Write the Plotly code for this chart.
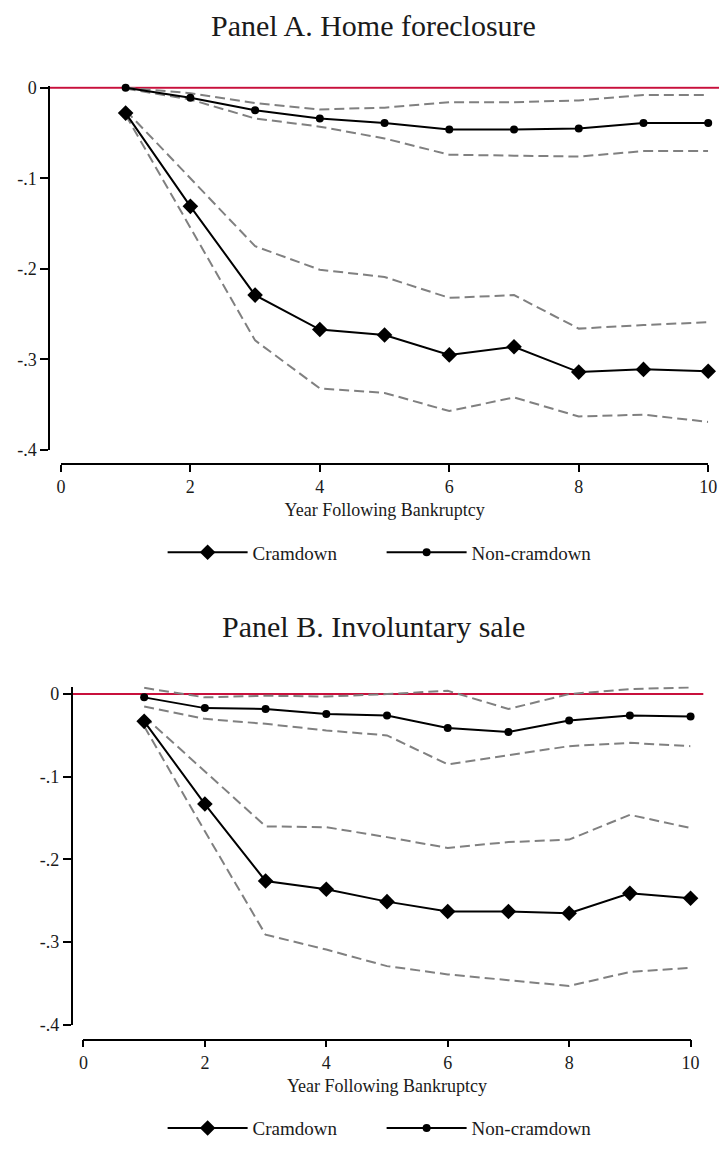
import plotly.graph_objects as go

# ---------------- data ----------------
years = [1, 2, 3, 4, 5, 6, 7, 8, 9, 10]

# Panel A. Home foreclosure
a_cram = [-0.028, -0.131, -0.229, -0.267, -0.273, -0.295, -0.286, -0.314, -0.311, -0.313]
a_cram_hi = [-0.025, -0.100, -0.175, -0.201, -0.209, -0.232, -0.229, -0.266, -0.262, -0.259]
a_cram_lo = [-0.030, -0.155, -0.279, -0.332, -0.337, -0.357, -0.342, -0.363, -0.361, -0.369]
a_non = [0.000, -0.011, -0.025, -0.034, -0.039, -0.046, -0.046, -0.045, -0.039, -0.039]
a_non_hi = [0.000, -0.006, -0.017, -0.024, -0.022, -0.016, -0.016, -0.014, -0.008, -0.008]
a_non_lo = [-0.001, -0.013, -0.034, -0.043, -0.056, -0.074, -0.075, -0.076, -0.070, -0.070]

# Panel B. Involuntary sale
b_cram = [-0.033, -0.133, -0.226, -0.236, -0.251, -0.263, -0.263, -0.265, -0.241, -0.247]
b_cram_hi = [-0.027, -0.094, -0.160, -0.161, -0.173, -0.186, -0.179, -0.176, -0.146, -0.162]
b_cram_lo = [-0.039, -0.166, -0.291, -0.309, -0.329, -0.339, -0.346, -0.353, -0.336, -0.331]
b_non = [-0.004, -0.017, -0.018, -0.024, -0.026, -0.041, -0.046, -0.032, -0.026, -0.027]
b_non_hi = [0.0075, -0.004, -0.002, -0.003, 0.000, 0.004, -0.018, 0.000, 0.006, 0.008]
b_non_lo = [-0.015, -0.030, -0.036, -0.044, -0.050, -0.085, -0.074, -0.063, -0.059, -0.063]

x_ticks = [0, 2, 4, 6, 8, 10]
y_ticks = [0, -0.1, -0.2, -0.3, -0.4]
y_ticktext = ["0", "-.1", "-.2", "-.3", "-.4"]

titles = ["Panel A. Home foreclosure", "Panel B. Involuntary sale"]
x_title = "Year Following Bankruptcy"
names = ["Cramdown", "Non-cramdown"]

# ---------------- style ----------------
W, H = 728, 1151
FONT = "Liberation Serif"
TXT = "#1a1a1a"
GRAY = "#808080"
RED = "#c8103c"
DASH = "10px,5px"

fig = go.Figure()

panels = [
    dict(cram=a_cram, hi=a_cram_hi, lo=a_cram_lo, non=a_non, nhi=a_non_hi, nlo=a_non_lo,
         xa="x", ya="y", legend="legend"),
    dict(cram=b_cram, hi=b_cram_hi, lo=b_cram_lo, non=b_non, nhi=b_non_hi, nlo=b_non_lo,
         xa="x2", ya="y2", legend="legend2"),
]

for p in panels:
    for ci in (p["hi"], p["lo"], p["nhi"], p["nlo"]):
        fig.add_trace(go.Scatter(
            x=years, y=ci, mode="lines", xaxis=p["xa"], yaxis=p["ya"],
            line=dict(color=GRAY, width=2, dash=DASH), showlegend=False,
            hoverinfo="skip", cliponaxis=False))
    fig.add_trace(go.Scatter(
        x=years, y=p["cram"], mode="lines+markers", name=names[0],
        xaxis=p["xa"], yaxis=p["ya"], legend=p["legend"],
        line=dict(color="black", width=2),
        marker=dict(symbol="diamond", size=12, color="black"), cliponaxis=False))
    fig.add_trace(go.Scatter(
        x=years, y=p["non"], mode="lines+markers", name=names[1],
        xaxis=p["xa"], yaxis=p["ya"], legend=p["legend"],
        line=dict(color="black", width=2),
        marker=dict(symbol="circle", size=8, color="black"), cliponaxis=False))

def px(v):
    return v / W

def py(v):
    return 1 - v / H

tickfont = dict(family=FONT, size=18, color=TXT)

xcommon = dict(range=[0, 10], tickvals=x_ticks, ticks="outside", ticklen=7, tickwidth=1.5,
               tickcolor="black", showline=True, linecolor="black", linewidth=1.5,
               showgrid=False, zeroline=False, tickfont=tickfont, anchor="free",
               title=dict(text=x_title, font=dict(family=FONT, size=18, color=TXT), standoff=6))
ycommon = dict(tickvals=y_ticks, ticktext=y_ticktext, ticks="outside", ticklen=8, tickwidth=1.5,
               tickcolor="black", showline=True, linecolor="black", linewidth=1.5,
               showgrid=False, zeroline=False, tickfont=tickfont, anchor="free")

legcommon = dict(orientation="h", x=px(384), xanchor="center", yanchor="middle",
                 font=dict(family=FONT, size=19, color=TXT), itemwidth=80,
                 entrywidth=124, entrywidthmode="pixels", bgcolor="rgba(0,0,0,0)")

fig.update_layout(
    width=W, height=H,
    margin=dict(l=0, r=0, t=0, b=0),
    paper_bgcolor="white", plot_bgcolor="white",
    font=dict(family=FONT, color=TXT),
    xaxis=dict(xcommon, domain=[px(57), px(717)], position=py(463)),
    yaxis=dict(ycommon, domain=[py(449), py(79.6)], range=[-0.4, 0.0015], position=px(45)),
    xaxis2=dict(xcommon, domain=[px(80), px(699)], position=py(1048)),
    yaxis2=dict(ycommon, domain=[py(1033), py(689.4)], range=[-0.4, 0.009], position=px(68)),
    legend=dict(legcommon, y=py(553)),
    legend2=dict(legcommon, y=py(1138)),
    showlegend=True,
)

# reference lines at zero across the plot regions
fig.add_shape(type="line", xref="paper", yref="y", x0=px(45), x1=1.0, y0=0, y1=0,
              line=dict(color=RED, width=2), layer="below")
fig.add_shape(type="line", xref="paper", yref="y2", x0=px(68), x1=px(712), y0=0, y1=0,
              line=dict(color=RED, width=2), layer="below")

# panel titles
for t, yy in zip(titles, [18, 628]):
    fig.add_annotation(text=t, xref="paper", yref="paper", x=px(376), y=py(yy),
                       xanchor="center", yanchor="middle", showarrow=False,
                       font=dict(family=FONT, size=30, color=TXT))

fig.write_html("out.html")
